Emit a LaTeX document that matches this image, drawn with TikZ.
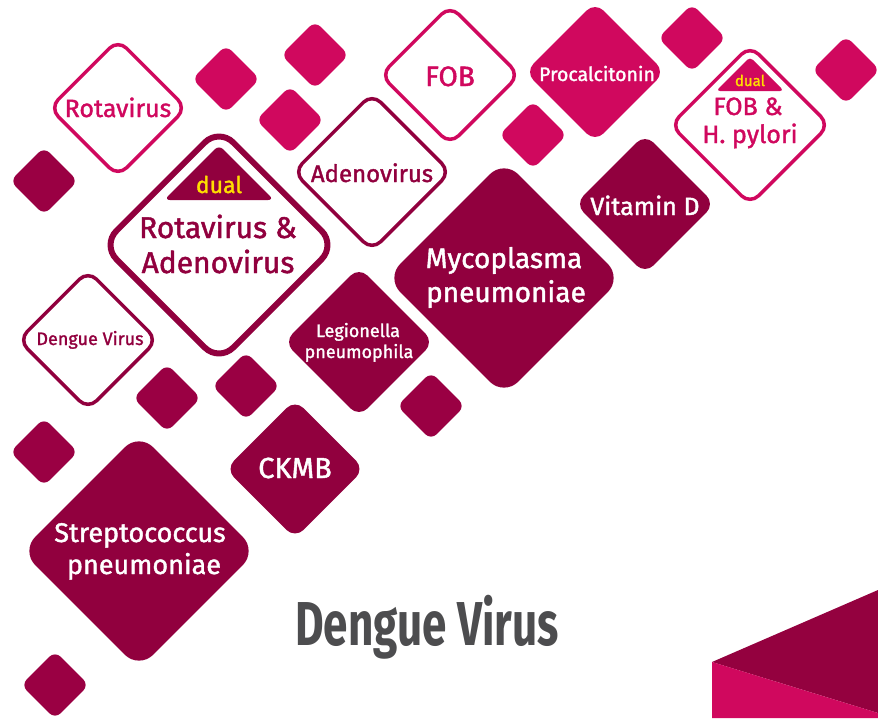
\documentclass[tikz,border=0pt]{standalone}
\usepackage{fontspec}
\usepackage{graphicx}
\setmainfont{Fira Sans}[FakeBold=1.5]
\newfontfamily\titlefont{Fira Sans}
\usetikzlibrary{shapes.geometric}

\definecolor{pinkc}{RGB}{208,8,94}
\definecolor{darkc}{RGB}{145,0,62}
\definecolor{dsmallc}{RGB}{154,0,67}
\definecolor{yellowc}{RGB}{255,222,0}
\definecolor{grayc}{RGB}{77,77,79}
\newcommand{\fsz}[1]{\fontsize{#1pt}{#1pt}\selectfont}

\begin{document}
\begin{tikzpicture}[x=1pt,y=-1pt,
  dia/.style={shape=diamond,aspect=1,inner sep=0pt,minimum size=#1},
  smallp/.style={dia=68pt,fill=pinkc,rounded corners=8pt},
  smalld/.style={dia=68pt,fill=dsmallc,rounded corners=8pt},
  pfill/.style={dia=#1,fill=pinkc,rounded corners=12pt},
  dfill/.style={dia=#1,fill=darkc,rounded corners=12pt},
  pline/.style={dia=#1,draw=pinkc,line width=3.5pt,rounded corners=12pt},
  dline/.style={dia=#1,draw=darkc,line width=3.5pt,rounded corners=12pt},
  wtext/.style={anchor=base,text=white},
  ptext/.style={anchor=base,text=pinkc},
  dtext/.style={anchor=base,text=darkc},
  ytext/.style={anchor=base,text=yellowc,font=\fsz{#1}}]
  \useasboundingbox (0,0) rectangle (878,718);

  % small diamonds
  \node[smallp] (sp1) at (226,79) {};
  \node[smallp] (sp2) at (315,55) {};
  \node[smallp] (sp3) at (290,120) {};
  \node[smallp] (sp4) at (533,135) {};
  \node[smallp] (sp5) at (692,38) {};
  \node[smallp] (sp6) at (846,70) {};
  \node[smalld] (sd1) at (44,181) {};
  \node[smalld] (sd2) at (167,398) {};
  \node[smalld] (sd3) at (246,386) {};
  \node[smalld] (sd4) at (431,406) {};
  \node[smalld] (sd5) at (44,452) {};
  \node[smalld] (sd6) at (55,685) {};

  % outlined tests
  \node[pline=138pt] (rota) at (118,108) {};
  \node[ptext,font=\fsz{25}] (rota-t) at (118,117) {Rotavirus};
  \node[pline=140pt] (fob) at (450,75) {};
  \node[ptext,font=\fsz{28}] (fob-t) at (450,86) {FOB};
  \node[dline=158pt] (adeno) at (372,172) {};
  \node[dtext,font=\fsz{24}] (adeno-t) at (372,182) {Adenovirus};
  \node[dline=140pt] (deng) at (88,340) {};
  \node[dtext,font=\fsz{18}] (deng-t) at (90,345) {Dengue Virus};

  % dual rota and adeno
  \node[dia=236pt,draw=darkc,line width=6pt,rounded corners=20pt] (duo) at (219,245) {};
  \fill[darkc,rounded corners=6pt] (164,200) -- (219,145) -- (274,200) -- cycle;
  \node[ytext=23] (duo-d) at (219,193) {dual};
  \node[dtext,font=\fsz{30}] (duo-a) at (218,238) {Rotavirus \&};
  \node[dtext,font=\fsz{30}] (duo-b) at (218,273) {Adenovirus};

  % dual fob and h. pylori
  \node[pline=160pt] (hp) at (750,125) {};
  \fill[pinkc,rounded corners=4pt] (716,91) -- (750,57) -- (784,91) -- cycle;
  \node[ytext=15] (hp-d) at (750,86) {dual};
  \node[ptext,font=\fsz{25}] (hp-a) at (748,115) {FOB \&};
  \node[ptext,font=\fsz{25}] (hp-b) at (750,143) {H. pylori};

  % filled tests
  \node[pfill=140pt] (pct) at (595,72) {};
  \node[wtext,font=\fsz{19.5}] (pct-t) at (597,81) {Procalcitonin};
  \node[dfill=140pt] (vitd) at (645,204) {};
  \node[wtext,font=\fsz{25}] (vitd-t) at (645,215) {Vitamin D};
  \node[dfill=150pt] (legio) at (359,342) {};
  \node[wtext,font=\fsz{18}] (legio-a) at (358,337) {Legionella};
  \node[wtext,font=\fsz{18}] (legio-b) at (359,358) {pneumophila};
  \node[dfill=139pt] (ckmb) at (295,469) {};
  \node[wtext,font=\fsz{29}] (ckmb-t) at (295,478) {CKMB};
  \node[dfill=236pt,rounded corners=20pt] (myco) at (504,278) {};
  \node[wtext,font=\fsz{28}] (myco-a) at (504,268) {Mycoplasma};
  \node[wtext,font=\fsz{28}] (myco-b) at (506,302) {pneumoniae};
  \node[dfill=236pt,rounded corners=20pt] (strep) at (139,551) {};
  \node[wtext,font=\fsz{27}] (strep-a) at (140,542) {Streptococcus};
  \node[wtext,font=\fsz{27}] (strep-b) at (144,574) {pneumoniae};

  % title
  \node[anchor=base,text=grayc,font=\titlefont\bfseries\fsz{62}] (title) at (427,645) {\scalebox{0.71}[1]{Dengue Virus}};

  % corner
  \fill[darkc!95!pinkc] (712,662) -- (878,590) -- (878,713) -- cycle;
  \fill[pinkc] (712,662) -- (878,713) -- (878,718) -- (712,718) -- cycle;
\end{tikzpicture}
\end{document}
